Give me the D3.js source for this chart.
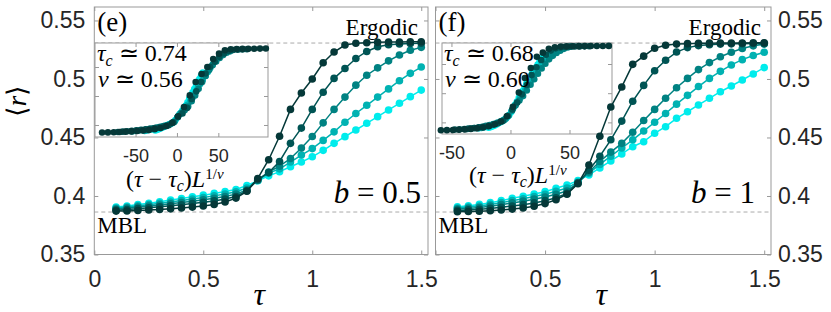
<!DOCTYPE html>
<html><head><meta charset="utf-8">
<script src="https://cdn.jsdelivr.net/npm/d3@7"></script>
<style>body{margin:0;background:#fff}svg{display:block}</style>
</head><body>
<svg id="c" width="831" height="312"></svg>
<script>
// ---------------- data ----------------
const tau = [0.1,0.15,0.2,0.25,0.3,0.35,0.4,0.45,0.5,0.55,0.6,0.65,0.7,0.75,0.8,0.85,0.9,0.95,1.0,1.05,1.1,1.15,1.2,1.25,1.3,1.35,1.4,1.45,1.5];
const sizes = [8,10,12,14,16];
const xTicks = [0,0.5,1,1.5];
const xTickLabelsLeft = [0,0.5,1,1.5];
const xTickLabelsRight = [0.5,1,1.5];
const yTicks = [0.35,0.4,0.45,0.5,0.55];
const insetXTicks = [-50,0,50];
const insetYTicks = [0.4,0.45,0.5];
const ergodicValue = 0.5307;
const mblValue = 0.3863;

// panel (e): b = 0.5
const tauC_e = 0.74, nu_e = 0.56;
const e_L8  = [0.3905,0.3915,0.3927,0.3938,0.3951,0.3965,0.3979,0.3993,0.4007,0.4022,0.4038,0.4056,0.4090,0.4130,0.4172,0.4208,0.4250,0.4290,0.4335,0.4390,0.4450,0.4507,0.4564,0.4621,0.4678,0.4735,0.4792,0.4849,0.4905];
const e_L10 = [0.3897,0.3906,0.3916,0.3926,0.3937,0.3949,0.3961,0.3974,0.3987,0.4001,0.4017,0.4036,0.4068,0.4132,0.4195,0.4232,0.4290,0.4350,0.4405,0.4475,0.4548,0.4630,0.4705,0.4775,0.4845,0.4915,0.4985,0.5048,0.5102];
const e_L12 = [0.3888,0.3896,0.3905,0.3914,0.3923,0.3933,0.3944,0.3955,0.3967,0.3980,0.3996,0.4016,0.4052,0.4135,0.4205,0.4255,0.4320,0.4410,0.4508,0.4625,0.4740,0.4845,0.4947,0.5032,0.5095,0.5155,0.5205,0.5245,0.5270];
const e_L14 = [0.3879,0.3885,0.3892,0.3900,0.3908,0.3916,0.3925,0.3935,0.3946,0.3958,0.3974,0.3996,0.4045,0.4140,0.4200,0.4295,0.4450,0.4580,0.4740,0.4887,0.5005,0.5090,0.5175,0.5235,0.5275,0.5292,0.5299,0.5303,0.5306];
const e_L16 = [0.3871,0.3872,0.3876,0.3880,0.3885,0.3890,0.3897,0.3905,0.3915,0.3928,0.3948,0.3982,0.4040,0.4150,0.4310,0.4510,0.4740,0.4880,0.5000,0.5138,0.5230,0.5290,0.5305,0.5310,0.5313,0.5315,0.5316,0.5317,0.5318];

// panel (f): b = 1
const tauC_f = 0.68, nu_f = 0.60;
const f_L8  = [0.3908,0.3916,0.3928,0.3943,0.3960,0.3980,0.3998,0.4017,0.4037,0.4066,0.4094,0.4131,0.4180,0.4240,0.4300,0.4359,0.4421,0.4464,0.4536,0.4592,0.4664,0.4720,0.4778,0.4835,0.4891,0.4940,0.4991,0.5043,0.5097];
const f_L10 = [0.3898,0.3905,0.3915,0.3928,0.3943,0.3960,0.3977,0.3995,0.4014,0.4040,0.4068,0.4120,0.4195,0.4270,0.4340,0.4410,0.4480,0.4555,0.4630,0.4705,0.4785,0.4860,0.4935,0.5005,0.5065,0.5120,0.5165,0.5200,0.5228];
const f_L12 = [0.3888,0.3894,0.3902,0.3913,0.3926,0.3941,0.3956,0.3973,0.3992,0.4015,0.4043,0.4112,0.4205,0.4295,0.4375,0.4450,0.4545,0.4645,0.4740,0.4835,0.4925,0.5005,0.5080,0.5140,0.5190,0.5228,0.5260,0.5283,0.5298];
const f_L14 = [0.3877,0.3881,0.3886,0.3894,0.3903,0.3914,0.3926,0.3941,0.3960,0.3985,0.4022,0.4110,0.4220,0.4340,0.4480,0.4640,0.4810,0.4945,0.5070,0.5160,0.5230,0.5268,0.5285,0.5293,0.5298,0.5300,0.5302,0.5303,0.5304];
const f_L16 = [0.3866,0.3867,0.3870,0.3874,0.3880,0.3888,0.3898,0.3912,0.3935,0.3968,0.4015,0.4105,0.4265,0.4510,0.4760,0.4932,0.5125,0.5195,0.5262,0.5288,0.5298,0.5302,0.5305,0.5306,0.5307,0.5308,0.5308,0.5309,0.5310];

// ---------------- styles / layout ----------------
const colors = ['#00ecec','#00b2b2','#008282','#005454','#053838'];
const axisColor = '#999';
const tickFont = "'Liberation Sans', Arial, sans-serif";
const serif = "'Liberation Serif', 'Times New Roman', serif";
const svg = d3.select('#c');

const panels = [
  {x0:94.3, x1:428, series:[e_L8,e_L10,e_L12,e_L14,e_L16], tauC:tauC_e, nu:nu_e,
   label:'(e)', bVal:'0.5', side:'left', xLabels:xTickLabelsLeft,
   inset:{x0:95,x1:268,y0:43,y1:137,xdom:[-99,110],ydom:[0.3793,0.5414], labBase:187, labX:126}},
  {x0:435.5, x1:771, series:[f_L8,f_L10,f_L12,f_L14,f_L16], tauC:tauC_f, nu:nu_f,
   label:'(f)', bVal:'1', side:'right', xLabels:xTickLabelsRight,
   inset:{x0:442,x1:612,y0:43,y1:134,xdom:[-58,86],ydom:[0.3801,0.536], labBase:183, labX:469}}
];
const yTop = 7, yBot = 254.5;

function styleAxis(g, fontSize, font) {
  g.select('.domain').remove();
  g.selectAll('.tick line').attr('stroke', axisColor);
  g.selectAll('.tick text').attr('fill','#262626').attr('font-size',fontSize).attr('font-family',font);
}

function boxTicks(g, x, y, x0, x1, y0, y1, xt, yt) {
  g.append('g').attr('transform',`translate(0,${y0})`)
    .call(d3.axisTop(x).tickValues(xt).tickSize(-4).tickFormat(''))
    .call(a=>styleAxis(a,0,tickFont));
  g.append('g').attr('transform',`translate(0,${y1})`)
    .call(d3.axisBottom(x).tickValues(xt).tickSize(-4).tickFormat(''))
    .call(a=>styleAxis(a,0,tickFont));
  g.append('g').attr('transform',`translate(${x0},0)`)
    .call(d3.axisLeft(y).tickValues(yt).tickSize(-4).tickFormat(''))
    .call(a=>styleAxis(a,0,tickFont));
  g.append('g').attr('transform',`translate(${x1},0)`)
    .call(d3.axisRight(y).tickValues(yt).tickSize(-4).tickFormat(''))
    .call(a=>styleAxis(a,0,tickFont));
}

panels.forEach(p => {
  const g = svg.append('g');
  const x = d3.scaleLinear().domain([0,1.531]).range([p.x0,p.x1]);
  const y = d3.scaleLinear().domain([0.35,0.5615]).range([yBot,yTop]);

  // reference lines
  [ergodicValue, mblValue].forEach(v => {
    g.append('line').attr('x1',p.x0).attr('x2',p.x1).attr('y1',y(v)).attr('y2',y(v))
      .attr('stroke','#aaa').attr('stroke-width',1).attr('stroke-dasharray','4,3');
  });

  // texts
  g.append('text').attr('x',p.x1-10).attr('y',35).attr('text-anchor','end')
    .attr('font-family',serif).attr('font-size',23).text('Ergodic');
  g.append('text').attr('x',p.x0+3).attr('y',233)
    .attr('font-family',serif).attr('font-size',23).text('MBL');
  const bt = g.append('text').attr('x',p.x1 - (p.side==='left'?7:16)).attr('y',203).attr('text-anchor','end')
    .attr('font-family',serif).attr('font-size',31);
  bt.append('tspan').attr('font-style','italic').text('b');
  bt.append('tspan').text(' = ' + p.bVal);

  // inset x-label (on main axes)
  const il = g.append('text').attr('x',p.inset.labX).attr('y',p.inset.labBase)
    .attr('font-family',serif).attr('font-size',24);
  il.append('tspan').text('(');
  il.append('tspan').attr('font-style','italic').text('τ');
  il.append('tspan').text(' − ');
  il.append('tspan').attr('font-style','italic').text('τ');
  il.append('tspan').attr('font-style','italic').attr('font-size',16).attr('dy',4).text('c');
  il.append('tspan').attr('dy',-4).text(')');
  il.append('tspan').attr('font-style','italic').text('L');
  il.append('tspan').attr('font-size',15).attr('dy',-8).text('1/');
  il.append('tspan').attr('font-size',15).attr('font-style','italic').text('ν');

  // box + ticks
  g.append('rect').attr('x',p.x0).attr('y',yTop).attr('width',p.x1-p.x0).attr('height',yBot-yTop)
    .attr('fill','none').attr('stroke',axisColor).attr('stroke-width',1);
  boxTicks(g, x, y, p.x0, p.x1, yTop, yBot, xTicks, yTicks);

  // tick labels
  g.append('g').attr('transform',`translate(0,${yBot})`)
    .call(d3.axisBottom(x).tickValues(p.xLabels).tickSize(0).tickPadding(16).tickFormat(d=>String(d)))
    .call(a=>styleAxis(a,23,tickFont));
  if (p.side==='left') {
    g.append('g').attr('transform',`translate(${p.x0},0)`)
      .call(d3.axisLeft(y).tickValues(yTicks).tickSize(0).tickPadding(9).tickFormat(d=>String(d)))
      .call(a=>styleAxis(a,23,tickFont));
  } else {
    g.append('g').attr('transform',`translate(${p.x1},0)`)
      .call(d3.axisRight(y).tickValues(yTicks).tickSize(0).tickPadding(7).tickFormat(d=>String(d)))
      .call(a=>styleAxis(a,23,tickFont));
  }

  // x label
  g.append('text').attr('x',(p.x0+p.x1)/2 - 2).attr('y',305).attr('text-anchor','middle')
    .attr('font-family',serif).attr('font-style','italic').attr('font-size',32).text('τ');

  // panel label
  g.append('text').attr('x',p.x0+3).attr('y',31).attr('font-family',serif).attr('font-size',27).text(p.label);

  // ---- inset ----
  const I = p.inset;
  const ix = d3.scaleLinear().domain(I.xdom).range([I.x0,I.x1]);
  const iy = d3.scaleLinear().domain(I.ydom).range([I.y1,I.y0]);
  g.append('rect').attr('x',I.x0).attr('y',I.y0).attr('width',I.x1-I.x0).attr('height',I.y1-I.y0)
    .attr('fill','#fff').attr('stroke',axisColor).attr('stroke-width',1);
  boxTicks(g, ix, iy, I.x0, I.x1, I.y0, I.y1, insetXTicks, insetYTicks);
  g.append('g').attr('transform',`translate(0,${I.y1})`)
    .call(d3.axisBottom(ix).tickValues(insetXTicks).tickSize(0).tickPadding(12).tickFormat(d=>String(d)))
    .call(a=>styleAxis(a,18,tickFont));

  p.series.forEach((s,i) => {
    const sc = Math.pow(sizes[i], 1/p.nu);
    g.append('g').selectAll('circle').data(s).join('circle')
      .attr('cx',(d,k)=>ix((tau[k]-p.tauC)*sc)).attr('cy',d=>iy(d)).attr('r',3.3)
      .attr('fill',colors[i]);
  });

  const t1 = g.append('text').attr('x',I.x0+2).attr('y',61).attr('font-family',serif).attr('font-size',24);
  t1.append('tspan').attr('font-style','italic').text('τ');
  t1.append('tspan').attr('font-style','italic').attr('font-size',16).attr('dy',5).text('c');
  t1.append('tspan').attr('dy',-5).text(' ≃ ' + p.tauC.toFixed(2));
  const t2 = g.append('text').attr('x',I.x0+3).attr('y',87).attr('font-family',serif).attr('font-size',24);
  t2.append('tspan').attr('font-style','italic').text('ν');
  t2.append('tspan').text(' ≃ ' + p.nu.toFixed(2));

  // ---- main data ----
  const line = d3.line().x((d,k)=>x(tau[k])).y(d=>y(d));
  p.series.forEach((s,i) => {
    const sg = g.append('g');
    sg.append('path').datum(s).attr('d',line).attr('fill','none')
      .attr('stroke',colors[i]).attr('stroke-width',1.5);
    sg.selectAll('circle').data(s).join('circle')
      .attr('cx',(d,k)=>x(tau[k])).attr('cy',d=>y(d)).attr('r',3.8).attr('fill',colors[i]);
  });
});

// y label
svg.append('text').attr('transform','translate(26,101) rotate(-90)').attr('text-anchor','middle')
  .attr('font-family',serif).attr('font-size',27)
  .call(t=>{ t.append('tspan').text('⟨'); t.append('tspan').attr('font-style','italic').text('r'); t.append('tspan').text('⟩'); });
</script>
</body></html>
